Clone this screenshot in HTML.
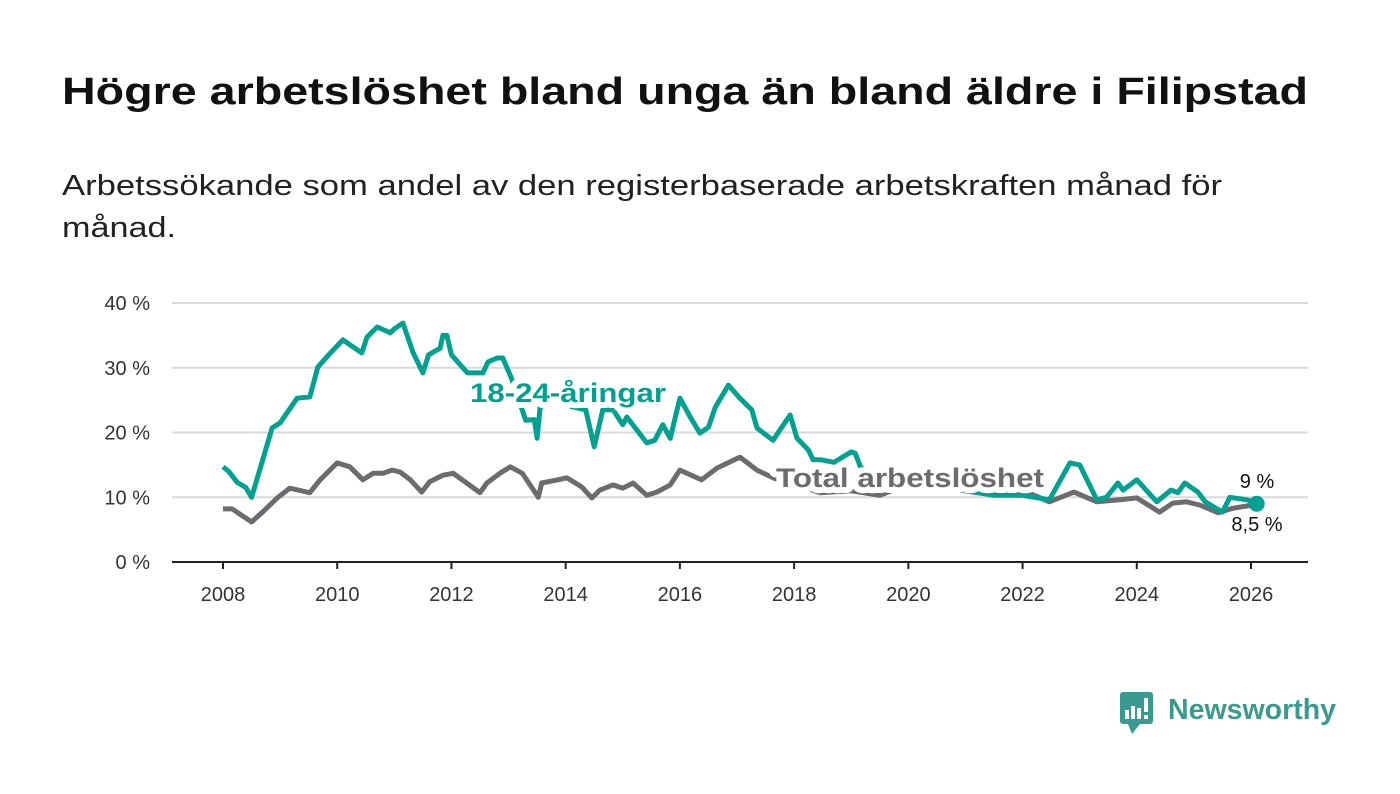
<!DOCTYPE html>
<html><head><meta charset="utf-8"><style>body{margin:0;background:#fff}svg{display:block}</style></head>
<body>
<svg id="chart" width="1400" height="794" viewBox="0 0 1400 794" font-family="Liberation Sans, sans-serif">
<text x="62" y="104" font-size="38" font-weight="bold" fill="#111" textLength="1246" lengthAdjust="spacingAndGlyphs">Högre arbetslöshet bland unga än bland äldre i Filipstad</text>
<text x="62" y="195" font-size="29" fill="#222" textLength="1160" lengthAdjust="spacingAndGlyphs">Arbetssökande som andel av den registerbaserade arbetskraften månad för</text>
<text x="62" y="237" font-size="29" fill="#222" textLength="114" lengthAdjust="spacingAndGlyphs">månad.</text>
<g id="grid"></g><g id="lines"></g><g id="labels"></g>
<g>
<rect x="1120" y="692" width="33" height="32" rx="3" fill="#3a9a8f"/>
<polygon points="1128,724 1140,724 1132,734" fill="#3a9a8f"/>
<rect x="1125" y="710" width="4" height="9" fill="#fff"/><rect x="1131" y="706" width="4" height="13" fill="#fff"/><rect x="1137" y="708" width="4" height="11" fill="#fff"/><rect x="1144" y="698" width="4" height="14" fill="#fff"/><rect x="1144" y="715" width="4" height="4" fill="#fff"/>
<text x="1168" y="719" font-size="29" font-weight="bold" fill="#3a9a8f" textLength="168" lengthAdjust="spacingAndGlyphs">Newsworthy</text>
</g>
</svg>
<script>
const yTicks=[0,10,20,30,40];
const yTickLabels=["0 %","10 %","20 %","30 %","40 %"];
const xTicks=[2008,2010,2012,2014,2016,2018,2020,2022,2024,2026];
const youthT=[2008.0,2008.1,2008.25,2008.4,2008.5,2008.86,2009.0,2009.3,2009.52,2009.66,2009.85,2010.1,2010.43,2010.52,2010.7,2010.93,2011.0,2011.15,2011.33,2011.5,2011.6,2011.8,2011.85,2011.92,2012.0,2012.28,2012.55,2012.64,2012.8,2012.9,2013.05,2013.3,2013.45,2013.5,2013.55,2013.8,2014.1,2014.35,2014.5,2014.65,2014.83,2015.0,2015.07,2015.42,2015.56,2015.7,2015.83,2016.0,2016.18,2016.35,2016.5,2016.62,2016.85,2017.05,2017.26,2017.35,2017.63,2017.93,2018.05,2018.25,2018.33,2018.46,2018.7,2019.0,2019.07,2019.16,2019.5,2020.0,2020.5,2021.0,2021.5,2021.6,2022.0,2022.47,2022.83,2023.0,2023.3,2023.47,2023.67,2023.76,2024.0,2024.35,2024.6,2024.72,2024.84,2025.07,2025.2,2025.5,2025.63,2025.93,2026.1];
const youthV=[14.7,14,12.3,11.5,10.0,20.7,21.5,25.3,25.5,30.1,32,34.3,32.3,34.7,36.3,35.4,36,36.9,32.3,29.2,32,33,35,35,32,29.2,29.2,30.9,31.5,31.5,28.4,21.9,22,19.1,23.8,26,24,23.5,17.8,23.5,23.5,21.2,22.4,18.4,18.8,21.2,19.1,25.3,22.4,19.9,20.8,23.9,27.3,25.3,23.5,20.7,18.8,22.7,19.1,17.3,15.8,15.8,15.4,17,16.8,14.7,12,13,12.5,11,10.3,10.3,10.3,9.6,15.3,15,9.6,10,12.2,11.1,12.7,9.3,11.1,10.7,12.2,10.8,9.3,7.7,10,9.6,9];
const totalT=[2008.0,2008.16,2008.5,2008.68,2008.95,2009.17,2009.52,2009.7,2010.0,2010.22,2010.45,2010.63,2010.8,2010.96,2011.1,2011.28,2011.48,2011.62,2011.85,2012.03,2012.5,2012.62,2012.85,2013.03,2013.24,2013.52,2013.58,2013.86,2014.02,2014.28,2014.46,2014.6,2014.83,2015.0,2015.18,2015.42,2015.6,2015.83,2016.0,2016.38,2016.65,2017.05,2017.35,2017.63,2018.0,2018.46,2019.0,2019.5,2020.0,2020.5,2021.0,2021.6,2022.07,2022.47,2022.9,2023.3,2023.7,2024.0,2024.4,2024.63,2024.87,2025.1,2025.43,2025.68,2026.03,2026.1];
const totalV=[8.2,8.2,6.2,7.6,9.9,11.4,10.7,12.7,15.3,14.7,12.7,13.7,13.7,14.2,13.9,12.7,10.8,12.4,13.4,13.7,10.7,12.2,13.7,14.7,13.7,10,12.2,12.7,13,11.6,9.9,11.1,11.9,11.4,12.2,10.3,10.8,11.9,14.2,12.7,14.5,16.2,14.2,13,12,10.7,11,10.3,12,11.5,11,10.3,10.8,9.3,10.8,9.3,9.6,9.9,7.7,9.1,9.3,8.8,7.6,8.3,8.8,8.5];
const X0=172,X1=1308,Y0=562;
function xs(t){return 223+(t-2008)*(1251-223)/18;}
function ys(v){return Y0-v*(562-303)/40;}
const NS="http://www.w3.org/2000/svg";
function mk(tag,attrs,parent,txt){const e=document.createElementNS(NS,tag);for(const k in attrs)e.setAttribute(k,attrs[k]);if(txt!==undefined)e.textContent=txt;parent.appendChild(e);return e;}
const grid=document.getElementById('grid'),lines=document.getElementById('lines'),labels=document.getElementById('labels');
yTicks.forEach((v,i)=>{
 if(v>0){const g=mk('line',{x1:X0,x2:X1,y1:ys(v),y2:ys(v),stroke:'#d9d9d9','stroke-width':2},grid);
 
 }
 const t=mk('text',{x:150,y:ys(v)+7,'text-anchor':'end','font-size':20,fill:'#333'},grid,yTickLabels[i]);
 
 
});
const ax=mk('line',{x1:X0,x2:X1,y1:Y0,y2:Y0,stroke:'#222','stroke-width':2},grid);


xTicks.forEach(yr=>{
 const tk=mk('line',{x1:xs(yr),x2:xs(yr),y1:Y0,y2:Y0+7,stroke:'#222','stroke-width':2},grid);
 
 
 const t=mk('text',{x:xs(yr),y:601,'text-anchor':'middle','font-size':20,fill:'#333'},grid,String(yr));
 
 
});
function path(T,V){return T.map((t,i)=>(i?'L':'M')+xs(t).toFixed(1)+','+ys(V[i]).toFixed(1)).join('');}
const pt=mk('path',{d:path(totalT,totalV),fill:'none',stroke:'#6d6b70','stroke-width':5,'stroke-linejoin':'round'},lines);


const py=mk('path',{d:path(youthT,youthV),fill:'none',stroke:'#00a190','stroke-width':5,'stroke-linejoin':'round'},lines);


const lastY=youthV[youthV.length-1],lastT=youthT[youthT.length-1];
const dot=mk('circle',{cx:xs(lastT),cy:ys(lastY),r:8,fill:'#00a190'},lines);


const l1=mk('text',{x:470,y:402,'font-size':27,'font-weight':'bold',fill:'#00a190',stroke:'#fff','stroke-width':12,'paint-order':'stroke','stroke-linejoin':'round',textLength:196,lengthAdjust:'spacingAndGlyphs'},labels,'18-24-åringar');


const l2=mk('text',{x:776,y:487,'font-size':27,'font-weight':'bold',fill:'#6d6b70',stroke:'#fff','stroke-width':12,'paint-order':'stroke','stroke-linejoin':'round',textLength:268,lengthAdjust:'spacingAndGlyphs'},labels,'Total arbetslöshet');


const e1=mk('text',{x:1257,y:488,'text-anchor':'middle','font-size':20,fill:'#111'},labels,'9 %');


const e2=mk('text',{x:1257,y:531,'text-anchor':'middle','font-size':20,fill:'#111'},labels,'8,5 %');


</script>
</body></html>
